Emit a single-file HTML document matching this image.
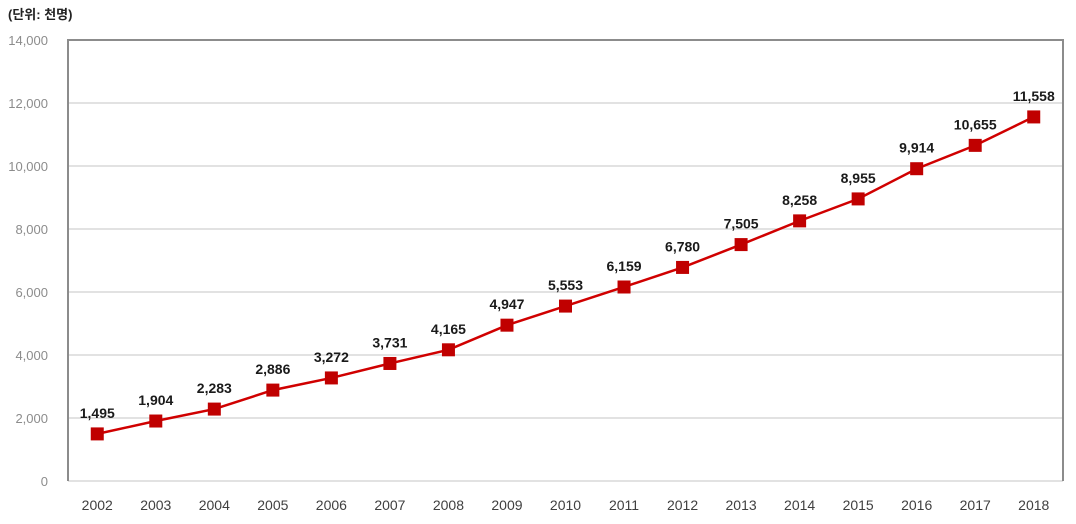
<!DOCTYPE html>
<html><head><meta charset="utf-8"><style>
body{margin:0;background:#fff;}
svg{display:block;font-family:"Liberation Sans","Noto Sans CJK KR",sans-serif;}
</style></head><body>
<svg id="chart" width="1076" height="524">
<text x="8" y="19" font-size="13" font-weight="bold" fill="#222">(단위: 천명)</text>
<g id="grid"></g><g id="axes"></g><g id="series"></g>
</svg>
<script>
const years=["2002","2003","2004","2005","2006","2007","2008","2009","2010","2011","2012","2013","2014","2015","2016","2017","2018"];
const values=[1495,1904,2283,2886,3272,3731,4165,4947,5553,6159,6780,7505,8258,8955,9914,10655,11558];
const valueLabels=["1,495","1,904","2,283","2,886","3,272","3,731","4,165","4,947","5,553","6,159","6,780","7,505","8,258","8,955","9,914","10,655","11,558"];
const yTicks=[0,2000,4000,6000,8000,10000,12000,14000];
const yTickLabels=["0","2,000","4,000","6,000","8,000","10,000","12,000","14,000"];
const NS="http://www.w3.org/2000/svg";
const L=68,R=1063,T=40,B=481,yMax=14000;
const cw=(R-L)/years.length;
const x=i=>L+cw*(i+0.5);
const y=v=>B-(v/yMax)*(B-T);
function mk(tag,attrs,parent,text){const e=document.createElementNS(NS,tag);for(const k in attrs)e.setAttribute(k,attrs[k]);if(text!==undefined)e.textContent=text;parent.appendChild(e);return e;}
const grid=document.getElementById('grid'),axes=document.getElementById('axes'),ser=document.getElementById('series');
yTicks.forEach((t,i)=>{
  if(t>0&&t<yMax){const g=mk('line',{x1:L,x2:R,y1:y(t),y2:y(t),stroke:'#d9d9d9','stroke-width':1.5},grid);
  
  }
  const tl=mk('text',{x:48,y:y(t)+5,'text-anchor':'end','font-size':13,fill:'#8c8c8c'},axes,yTickLabels[i]);
  
  
});
const base=mk('line',{x1:L,x2:R,y1:B,y2:B,stroke:'#d9d9d9','stroke-width':1.5},axes);


const frame=mk('path',{d:`M${L},${B} V${T} H${R} V${B}`,fill:'none',stroke:'#8c8c8c','stroke-width':2},axes);


years.forEach((yr,i)=>{
  const t=mk('text',{x:x(i),y:510,'text-anchor':'middle','font-size':14,fill:'#404040'},axes,yr);
  
  
});
const pts=values.map((v,i)=>x(i)+','+y(v)).join(' ');
const line=mk('polyline',{points:pts,fill:'none',stroke:'#d00000','stroke-width':2.5},ser);


values.forEach((v,i)=>{
  const m=mk('rect',{x:x(i)-6.5,y:y(v)-6.5,width:13,height:13,fill:'#c00000'},ser);
  
  
  const lb=mk('text',{x:x(i),y:y(v)-16,'text-anchor':'middle','font-size':14,'font-weight':'bold',fill:'#1a1a1a'},ser,valueLabels[i]);
  
  
});
</script>
</body></html>
